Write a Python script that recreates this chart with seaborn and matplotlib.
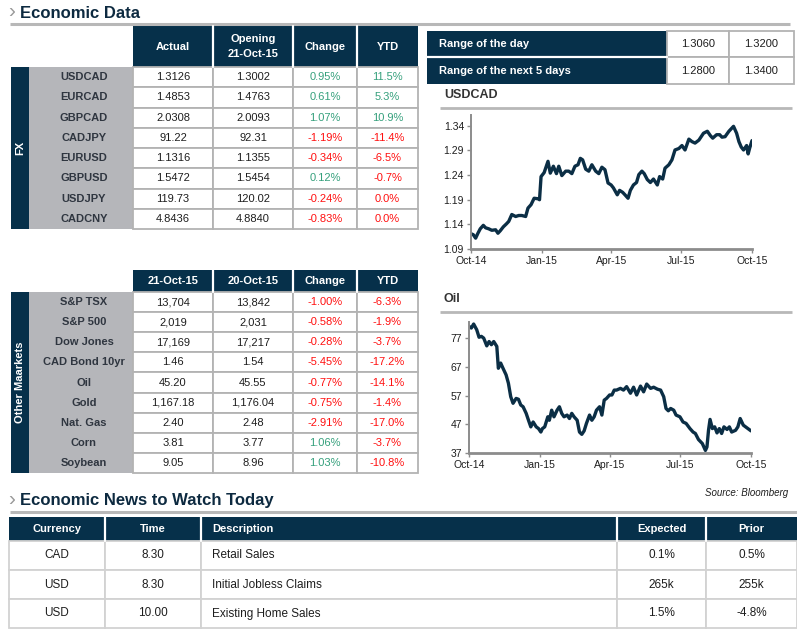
# ============================================
# ECONOMIC DATA DASHBOARD
# tables + USDCAD / Oil line charts
# ============================================

import numpy as np
import pandas as pd
import matplotlib
matplotlib.use("Agg")
import matplotlib.pyplot as plt
import seaborn as sns
from matplotlib.patches import Rectangle

# ============================================
# 1. DATA
# ============================================

fx_names = ["USDCAD", "EURCAD", "GBPCAD", "CADJPY", "EURUSD", "GBPUSD", "USDJPY", "CADCNY"]
fx_actual = ["1.3126", "1.4853", "2.0308", "91.22", "1.1316", "1.5472", "119.73", "4.8436"]
fx_opening = ["1.3002", "1.4763", "2.0093", "92.31", "1.1355", "1.5454", "120.02", "4.8840"]
fx_change = ["0.95%", "0.61%", "1.07%", "-1.19%", "-0.34%", "0.12%", "-0.24%", "-0.83%"]
fx_ytd = ["11.5%", "5.3%", "10.9%", "-11.4%", "-6.5%", "-0.7%", "0.0%", "0.0%"]

mk_names = ["S&P TSX", "S&P 500", "Dow Jones", "CAD Bond 10yr", "Oil", "Gold",
            "Nat. Gas", "Corn", "Soybean"]
mk_today = ["13,704", "2,019", "17,169", "1.46", "45.20", "1,167.18", "2.40", "3.81", "9.05"]
mk_prev = ["13,842", "2,031", "17,217", "1.54", "45.55", "1,176.04", "2.48", "3.77", "8.96"]
mk_change = ["-1.00%", "-0.58%", "-0.28%", "-5.45%", "-0.77%", "-0.75%", "-2.91%", "1.06%", "1.03%"]
mk_ytd = ["-6.3%", "-1.9%", "-3.7%", "-17.2%", "-14.1%", "-1.4%", "-17.0%", "-3.7%", "-10.8%"]

range_labels = ["Range of the day", "Range of the next 5 days"]
range_low = ["1.3060", "1.2800"]
range_high = ["1.3200", "1.3400"]

news_header = ["Currency", "Time", "Description", "Expected", "Prior"]
news_currency = ["CAD", "USD", "USD"]
news_time = ["8.30", "8.30", "10.00"]
news_desc = ["Retail Sales", "Initial Jobless Claims", "Existing Home Sales"]
news_expected = ["0.1%", "265k", "1.5%"]
news_prior = ["0.5%", "255k", "-4.8%"]

# days since 21-Oct-14
usdcad_day = [0, 3, 6, 9, 12, 16, 19, 23, 27, 32, 35, 38, 42, 46, 49, 53, 58, 62, 66, 71,
              74, 78, 82, 87, 89, 91, 95, 100, 103, 107, 111, 114, 118, 123, 127, 131, 135,
              139, 142, 145, 149, 153, 157, 162, 166, 170, 174, 178, 182, 185, 190, 193, 197,
              200, 204, 207, 211, 215, 218, 222, 225, 229, 233, 237, 242, 245, 249, 252, 257,
              261, 265, 270, 274, 278, 283, 287, 291, 296, 299, 302, 307, 311, 314, 319, 323,
              326, 330, 335, 341, 345, 348, 351, 354, 358, 360, 362, 365]
usdcad_val = [1.121, 1.119, 1.112, 1.122, 1.131, 1.138, 1.133, 1.131, 1.128, 1.129, 1.122,
              1.127, 1.135, 1.141, 1.146, 1.160, 1.156, 1.158, 1.158, 1.156, 1.173, 1.180,
              1.193, 1.192, 1.190, 1.237, 1.245, 1.268, 1.244, 1.258, 1.243, 1.258, 1.239,
              1.248, 1.248, 1.243, 1.258, 1.261, 1.274, 1.271, 1.252, 1.248, 1.261, 1.248,
              1.243, 1.256, 1.251, 1.224, 1.220, 1.214, 1.200, 1.209, 1.205, 1.200, 1.193,
              1.209, 1.220, 1.225, 1.241, 1.248, 1.243, 1.231, 1.225, 1.232, 1.220, 1.237,
              1.232, 1.254, 1.261, 1.271, 1.291, 1.294, 1.300, 1.291, 1.313, 1.308, 1.305,
              1.311, 1.318, 1.325, 1.329, 1.320, 1.315, 1.322, 1.322, 1.317, 1.318, 1.329,
              1.339, 1.325, 1.308, 1.297, 1.291, 1.300, 1.283, 1.295, 1.310]

oil_day = [0, 3, 6, 10, 13, 16, 19, 23, 26, 29, 32, 36, 38, 41, 44, 48, 51, 54, 57, 61, 64,
           67, 70, 74, 77, 80, 83, 87, 90, 93, 95, 98, 102, 104, 107, 110, 114, 117, 120, 123,
           127, 130, 133, 136, 140, 143, 146, 149, 152, 156, 159, 162, 165, 169, 172, 175,
           178, 182, 185, 188, 191, 196, 200, 204, 209, 213, 217, 222, 226, 230, 235, 239,
           244, 248, 252, 255, 258, 261, 265, 268, 273, 277, 281, 286, 290, 293, 297, 302,
           306, 308, 310, 312, 315, 318, 321, 324, 327, 330, 334, 337, 340, 345, 348, 351,
           355, 358, 361, 365]
oil_val = [81.1, 80.5, 81.9, 79.9, 77.3, 77.6, 77.0, 74.3, 75.8, 74.7, 75.8, 74.1, 66.5, 68.3,
           66.5, 64.2, 61.3, 56.6, 54.3, 56.0, 55.7, 53.7, 53.1, 50.8, 48.4, 46.1, 47.8, 46.1,
           45.5, 44.3, 45.5, 46.1, 49.6, 48.4, 51.9, 49.6, 51.9, 53.1, 50.8, 49.6, 50.2, 49.0,
           50.8, 49.6, 48.4, 44.3, 43.5, 44.7, 47.3, 50.2, 48.4, 49.6, 51.9, 53.1, 50.2, 55.4,
           56.0, 57.2, 57.2, 58.9, 58.9, 59.5, 58.9, 60.1, 57.8, 59.9, 57.2, 60.3, 58.3, 61.0,
           59.5, 59.9, 59.2, 58.9, 56.6, 52.5, 51.7, 52.5, 51.9, 50.2, 49.6, 47.8, 47.3, 45.5,
           44.3, 43.8, 41.7, 40.3, 37.9, 39.1, 44.9, 48.7, 45.5, 46.1, 44.0, 45.5, 43.8, 46.1,
           45.2, 46.1, 44.3, 44.9, 46.1, 49.0, 46.7, 46.1, 45.5, 44.7]

month_ticks = [0, 92, 182, 273, 365]
month_labels = ["Oct-14", "Jan-15", "Apr-15", "Jul-15", "Oct-15"]

# ============================================
# 2. STILE
# ============================================

NAVY = "#06304a"
LINE = "#0b2e45"
GREY_COL = "#b5b6ba"
BORDER = "#b3b3b3"
GREEN = "#35a07c"
RED = "#ff1010"
TXT = "#1e1e1e"

sns.set_theme(style="white")
plt.rcParams["font.family"] = ["Liberation Sans", "DejaVu Sans"]

W, H = 797, 634
fig = plt.figure(figsize=(W / 100, H / 100), dpi=100)
ax = fig.add_axes([0, 0, 1, 1])
ax.set_xlim(0, W)
ax.set_ylim(H, 0)
ax.axis("off")


def box(x0, y0, x1, y1, fc, ec="none", lw=0):
    ax.add_patch(Rectangle((x0, y0), x1 - x0, y1 - y0,
                           facecolor=fc, edgecolor=ec, linewidth=lw))


def txt(x, y, s, **kw):
    kw.setdefault("va", "center")
    kw.setdefault("fontsize", 8)
    kw.setdefault("color", TXT)
    ax.text(x, y, s, **kw)


def section_title(y, s, x1):
    txt(8, y - 1, "\u203a", fontsize=15, color="#9a9a9a")
    txt(20, y, s, fontsize=12, fontweight="bold", color="#0d2a40")
    ax.plot([10, x1], [y + 11, y + 11], color="#b8b8b8", lw=2.2, solid_capstyle="butt")


def sign_color(s):
    # positivo -> verde, zero o negativo -> rosso
    return GREEN if float(s.strip("%")) > 0 else RED


# ============================================
# 3. TABELLE MERCATI
# ============================================

cols = [133, 213, 293, 357, 418]


def market_table(head_y, h_bot, headers, side, names, c1, c2, chg, ytd):
    n = len(names)
    # header
    box(cols[0], head_y[0], cols[-1], head_y[1], NAVY)
    for x in cols[1:-1]:
        ax.plot([x, x], [head_y[0], head_y[1]], color="white", lw=1.6)
    for i, lab in enumerate(headers):
        txt((cols[i] + cols[i + 1]) / 2, (head_y[0] + head_y[1]) / 2, lab,
            ha="center", color="white", fontweight="bold", linespacing=1.6)
    # body
    y0 = head_y[1]
    row_h = (h_bot - y0) / n
    box(11, y0, 29, h_bot, NAVY)
    box(29, y0, cols[0], h_bot, GREY_COL)
    txt(20, (y0 + h_bot) / 2, side, ha="center", rotation=90, color="white",
        fontweight="bold")
    for r in range(n):
        ya, yb = y0 + r * row_h, y0 + (r + 1) * row_h
        yc = (ya + yb) / 2
        for i in range(4):
            box(cols[i], ya, cols[i + 1], yb, "white", BORDER, 1.3)
        txt((29 + cols[0]) / 2 + 3, yc, names[r], ha="center", color="#2f3640",
            fontweight="bold")
        txt((cols[0] + cols[1]) / 2, yc, c1[r], ha="center")
        txt((cols[1] + cols[2]) / 2, yc, c2[r], ha="center")
        txt((cols[2] + cols[3]) / 2, yc, chg[r], ha="center", color=sign_color(chg[r]))
        txt((cols[3] + cols[4]) / 2, yc, ytd[r], ha="center", color=sign_color(ytd[r]))


section_title(13, "Economic Data", 790)

market_table((26, 67), 229, ["Actual", "Opening\n21-Oct-15", "Change", "YTD"], "FX",
             fx_names, fx_actual, fx_opening, fx_change, fx_ytd)

market_table((270, 292), 473, ["21-Oct-15", "20-Oct-15", "Change", "YTD"], "Other Maarkets",
             mk_names, mk_today, mk_prev, mk_change, mk_ytd)

# ============================================
# 4. RANGE USDCAD
# ============================================

rx = [427, 667, 729, 794]
ry = [31, 57, 84]
box(rx[0], ry[0], rx[1], ry[2], NAVY)
ax.plot([rx[0], rx[1]], [ry[1], ry[1]], color="white", lw=1.6)
for r in range(2):
    yc = (ry[r] + ry[r + 1]) / 2
    txt(439, yc, range_labels[r], color="white", fontweight="bold")
    box(rx[1], ry[r], rx[2], ry[r + 1], "white", BORDER, 1.3)
    box(rx[2], ry[r], rx[3], ry[r + 1], "white", BORDER, 1.3)
    txt((rx[1] + rx[2]) / 2, yc, range_low[r], ha="center")
    txt((rx[2] + rx[3]) / 2, yc, range_high[r], ha="center")

# ============================================
# 5. GRAFICI
# ============================================


def line_chart(title, ty, l, r, t, b, days, vals, ylim, yticks, fmt):
    txt(444, ty, title, fontsize=9, fontweight="bold", color="#333333")
    ax.plot([440, 792], [ty + 13, ty + 13], color="#b8b8b8", lw=2, solid_capstyle="butt")
    cax = fig.add_axes([l / W, (H - b) / H, (r - l) / W, (b - t) / H])
    sns.lineplot(x=days, y=vals, ax=cax, color=LINE, linewidth=2.4)
    cax.set_xlim(0, 365)
    cax.set_ylim(*ylim)
    cax.set_xticks(month_ticks)
    cax.set_xticklabels(month_labels)
    cax.set_yticks(yticks)
    cax.set_yticklabels([fmt.format(v) for v in yticks])
    cax.set_facecolor("none")
    for s in ["top", "right"]:
        cax.spines[s].set_visible(False)
    cax.spines["left"].set_color("#8c8c8c")
    cax.spines["left"].set_linewidth(1.4)
    cax.spines["bottom"].set_color("#8c8c8c")
    cax.spines["bottom"].set_linewidth(2)
    cax.tick_params(bottom=True, left=True, direction="out", length=3, width=1,
                    color="#8c8c8c", labelsize=7.5, labelcolor=TXT, pad=2)
    cax.set_xlabel("")
    cax.set_ylabel("")


line_chart("USDCAD", 95, 471, 752, 115, 249, usdcad_day, usdcad_val,
           (1.09, 1.362), [1.09, 1.14, 1.19, 1.24, 1.29, 1.34], "{:.2f}")

line_chart("Oil", 299, 469, 751, 322, 453, oil_day, oil_val,
           (37, 82.6), [37, 47, 57, 67, 77], "{:.0f}")

txt(788, 493, "Source: Bloomberg", ha="right", fontsize=7, style="italic")

# ============================================
# 6. ECONOMIC NEWS
# ============================================

section_title(501, "Economic News to Watch Today", 797)

nx = [9, 105, 201, 617, 706, 797]
ny = [517, 541, 570, 599, 628]
box(nx[0], ny[0], nx[-1], ny[1], NAVY)
for x in nx[1:-1]:
    ax.plot([x, x], [ny[0], ny[1]], color="white", lw=1.6)
for i, lab in enumerate(news_header):
    if i == 2:
        txt(nx[i] + 11, (ny[0] + ny[1]) / 2, lab, color="white", fontweight="bold")
    else:
        txt((nx[i] + nx[i + 1]) / 2, (ny[0] + ny[1]) / 2, lab, ha="center",
            color="white", fontweight="bold")

rows = list(zip(news_currency, news_time, news_desc, news_expected, news_prior))
for r, row in enumerate(rows):
    ya, yb = ny[r + 1], ny[r + 2]
    yc = (ya + yb) / 2
    for i, val in enumerate(row):
        box(nx[i], ya, nx[i + 1], yb, "white", "#d2d2d2", 1.3)
        if i == 2:
            txt(nx[i] + 11, yc, val, fontsize=8.5)
        else:
            txt((nx[i] + nx[i + 1]) / 2, yc, val, ha="center", fontsize=8.5)

fig.savefig("out.png", dpi=100)
